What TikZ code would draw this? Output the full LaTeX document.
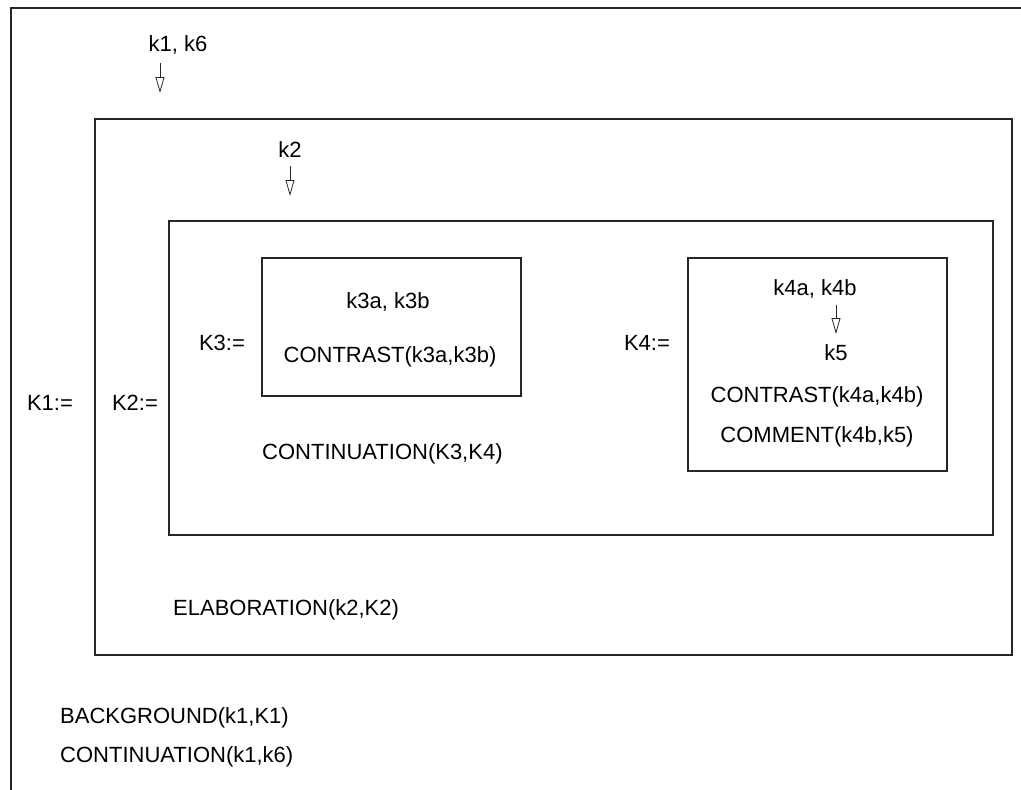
\documentclass[tikz,border=0pt]{standalone}
\usepackage{fontspec}
\setmainfont{Liberation Sans}
\usetikzlibrary{arrows.meta}
\begin{document}
\begin{tikzpicture}[x=1pt,y=-1pt,
  frame/.style={draw=black!85, line width=1.1pt},
  lbl/.style={inner sep=0pt, font=\fontsize{22}{26}\selectfont},
  lblw/.style={lbl, anchor=west},
  pointer/.style={draw=black!85, line width=0.7pt,
    -{Triangle[open, length=16pt, width=9pt, line width=0.8pt]}}]
\useasboundingbox (0,0) rectangle (1021,790);

% outer frame (open to the right and bottom)
\draw[frame] (11,790) -- (11,8) -- (1021,8);

% nested boxes
\draw[frame] (95,119) rectangle (1012,655);
\draw[frame] (169,221) rectangle (993,535);
\draw[frame] (262,258) rectangle (521,396);
\draw[frame] (688,258) rectangle (947,471);

% top level
\node[lbl] (k16) at (178,45) {k1, k6};
\coordinate (k16tail) at (160,63);
\coordinate (k16tip) at (160,93);
\draw[pointer] (k16tail) -- (k16tip);

\node[lbl] (K1) at (50,403) {K1:=};

% K1 contents
\node[lbl] (k2) at (290,150) {k2};
\coordinate (k2tail) at (290,166);
\coordinate (k2tip) at (290,196);
\draw[pointer] (k2tail) -- (k2tip);

\node[lbl] (K2) at (135,403) {K2:=};

% K2 contents
\node[lbl] (K3) at (222,343) {K3:=};
\node[lbl] (k3ab) at (388,302) {k3a, k3b};
\node[lbl] (c3) at (390,357) {CONTRAST(k3a,k3b)};

\node[lbl] (K4) at (647,343) {K4:=};
\node[lbl] (k4ab) at (815,289) {k4a, k4b};
\node[lbl] (k5) at (836,353) {k5};
\coordinate (k5tail) at (836,305);
\coordinate (k5tip) at (836,334);
\draw[pointer] (k5tail) -- (k5tip);
\node[lbl] (c4) at (817,397) {CONTRAST(k4a,k4b)};
\node[lbl] (cm4) at (817,437) {COMMENT(k4b,k5)};

\node[lblw] (cont) at (262,454) {CONTINUATION(K3,K4)};
\node[lblw] (elab) at (173,610) {ELABORATION(k2,K2)};

% relations at the top level
\node[lblw] (bg) at (60,718) {BACKGROUND(k1,K1)};
\node[lblw] (cont1) at (60,757) {CONTINUATION(k1,k6)};
\end{tikzpicture}
\end{document}
